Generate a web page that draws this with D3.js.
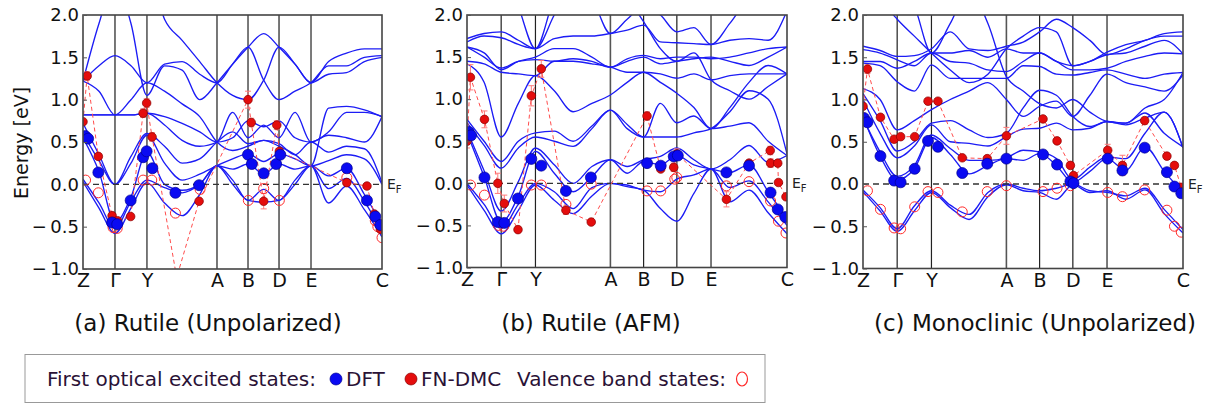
<!DOCTYPE html>
<html>
<head>
<meta charset="utf-8">
<script src="https://cdn.jsdelivr.net/npm/d3@7"></script>
<style>
  html, body { margin: 0; padding: 0; background: #fff; }
  svg { display: block; font-family: "DejaVu Sans", sans-serif; }
</style>
</head>
<body>
<svg id="chart" width="1208" height="405"></svg>
<script>
// High-symmetry points along the k-path and their path distances
const kLabels = ["Z", "Γ", "Y", "A", "B", "D", "E", "C"];
const kTicks = [0, 1, 2, 4.19, 5.16, 6.13, 7.13, 9.35];
// k positions at which every band energy is sampled
const kGrid = [0, 0.5, 1, 1.5, 2, 2.55, 3.1, 3.65, 4.19, 4.68, 5.16, 5.65, 6.13, 6.63, 7.13, 7.68, 8.24, 8.8, 9.35];
const energyTicks = [2.0, 1.5, 1.0, 0.5, 0.0, -0.5, -1.0];

// DFT band energies (eV) for rutile, unpolarized
const rutileBands = [
  [0.03, -0.28, -0.58, -0.28, 0.02, -0.22, -0.37, -0.12, 0.22, 0.0, -0.19, -0.21, -0.19, 0.0, 0.22, -0.22, -0.02, -0.3, -0.62],
  [0.06, -0.22, -0.52, -0.2, 0.05, -0.04, -0.1, 0.0, 0.22, 0.05, -0.19, -0.06, -0.19, 0.05, 0.22, -0.05, 0.07, -0.2, -0.56],
  [0.55, 0.15, -0.45, -0.15, 0.38, 0.0, -0.07, 0.0, 0.22, 0.18, 0.24, 0.12, 0.24, 0.18, 0.22, 0.1, 0.19, -0.12, -0.48],
  [0.6, 0.28, 0.0, 0.25, 0.58, 0.25, 0.05, 0.12, 0.22, 0.3, 0.36, 0.27, 0.36, 0.3, 0.22, 0.28, 0.35, 0.3, 0.0],
  [0.72, 0.35, 0.0, 0.33, 0.6, 0.45, 0.25, 0.3, 0.5, 0.62, 0.48, 0.52, 0.48, 0.35, 0.5, 0.38, 0.45, 0.42, 0.02],
  [0.82, 0.82, 0.82, 0.82, 0.84, 0.7, 0.52, 0.45, 0.5, 0.85, 0.55, 0.7, 0.55, 0.85, 0.5, 0.58, 0.55, 0.5, 0.8],
  [0.82, 0.82, 0.82, 0.82, 0.84, 0.8, 0.72, 0.62, 0.5, 0.55, 0.75, 0.68, 0.75, 0.55, 0.5, 0.62, 0.85, 0.85, 0.8],
  [1.22, 1.4, 1.52, 1.4, 1.2, 1.42, 1.45, 1.3, 1.2, 1.42, 1.62, 1.78, 1.62, 1.42, 1.2, 1.45, 1.55, 1.6, 1.6],
  [1.22, 1.9, 2.4, 1.9, 1.05, 1.4, 1.35, 1.0, 1.2, 1.42, 1.62, 1.23, 1.0, 1.1, 1.2, 1.4, 1.4, 1.5, 1.52],
  [2.5, 2.3, 2.2, 2.3, 2.6, 1.95, 1.7, 1.45, 1.2, 1.05, 1.0, 1.23, 1.62, 1.42, 1.2, 1.3, 1.32, 1.45, 1.5],
  [1.22, 1.1, 0.82, 1.0, 1.2, 1.1, 0.95, 0.8, 0.5, 0.4, 0.45, 0.52, 0.45, 0.35, 0.22, 0.9, 0.92, 0.88, 0.8]
];
const rutileDft = [
  [0.07, 0.57], [0.16, 0.54], [0.48, 0.14], [0.91, -0.45], [1.07, -0.47], [1.49, -0.19],
  [1.88, 0.32], [1.99, 0.39], [2.17, 0.19], [2.89, -0.1], [3.63, -0.01],
  [5.16, 0.35], [5.28, 0.24], [5.65, 0.13], [6.04, 0.24], [6.17, 0.35],
  [8.25, 0.19], [8.88, -0.19], [9.14, -0.38], [9.3, -0.48]
];
const rutileDmc = [
  [0.0, 0.74, 0.04], [0.13, 1.28, 0.05], [0.48, 0.33, 0.04], [0.91, -0.37, 0.03], [1.08, -0.43, 0.03],
  [1.49, -0.38, 0.03], [1.88, 0.84, 0.05], [1.99, 0.96, 0.05], [2.16, 0.56, 0.05], [2.93, -1.1, 0.05],
  [3.63, -0.2, 0.04], [5.16, 1.0, 0.1], [5.26, 0.73, 0.05], [5.65, -0.2, 0.09], [6.06, 0.7, 0.05],
  [6.14, 0.39, 0.04], [8.25, 0.02, 0.03], [8.88, -0.02, 0.03], [9.11, -0.35, 0.03], [9.3, -0.53, 0.03]
];
const rutileValence = [
  [0.08, 0.05], [0.48, -0.1], [0.94, -0.51], [1.07, -0.52], [1.88, 0.05], [2.15, 0.05],
  [2.89, -0.34], [3.66, -0.06], [5.17, -0.19], [5.65, -0.05], [6.14, -0.19],
  [8.25, 0.08], [9.14, -0.43], [9.22, -0.5], [9.35, -0.63]
];

// DFT band energies (eV) for rutile, antiferromagnetic
const rutileAfmBands = [
  [-0.02, -0.32, -0.6, -0.32, -0.02, -0.2, -0.36, -0.15, 0.0, -0.04, -0.08, -0.3, -0.45, -0.12, 0.17, -0.22, -0.08, -0.35, -0.6],
  [0.0, -0.25, -0.53, -0.25, 0.0, -0.1, -0.3, -0.05, 0.0, -0.02, -0.08, -0.1, 0.05, 0.1, 0.17, -0.05, 0.03, -0.22, -0.5],
  [0.6, 0.08, -0.46, -0.15, 0.38, 0.12, -0.1, 0.08, 0.28, 0.12, 0.26, 0.22, 0.33, 0.22, 0.17, 0.13, 0.22, -0.1, -0.42],
  [0.63, 0.15, -0.33, 0.02, 0.42, 0.22, 0.0, 0.2, 0.28, 0.2, 0.28, 0.32, 0.42, 0.28, 0.17, 0.28, 0.45, 0.25, 0.33],
  [0.72, 0.45, 0.18, 0.42, 0.55, 0.5, 0.44, 0.65, 0.87, 0.65, 0.55, 0.95, 0.72, 0.8, 0.65, 0.68, 0.72, 0.5, 0.33],
  [0.76, 0.5, 0.26, 0.5, 0.6, 0.62, 0.5, 0.68, 0.87, 0.7, 0.55, 0.55, 0.55, 0.6, 0.65, 0.85, 1.1, 1.0, 0.35],
  [1.42, 1.2, 0.55, 0.95, 1.28, 1.1, 0.85, 0.95, 1.05, 1.2, 1.32, 1.2, 1.07, 0.9, 0.65, 0.9, 1.2, 1.4, 1.3],
  [1.45, 1.42, 1.32, 1.3, 1.28, 1.45, 1.45, 1.42, 1.38, 1.32, 1.32, 1.3, 1.25, 1.3, 1.23, 1.28, 1.3, 1.3, 1.3],
  [1.62, 1.5, 1.37, 1.45, 1.47, 1.45, 1.48, 1.45, 1.38, 1.45, 1.5, 1.42, 1.45, 1.48, 1.5, 1.45, 1.4, 1.5, 1.62],
  [1.62, 1.55, 1.35, 1.45, 1.5, 1.6, 1.6, 1.5, 1.38, 1.48, 1.52, 1.48, 1.5, 1.5, 1.48, 1.5, 1.55, 1.6, 1.62],
  [1.68, 1.75, 1.73, 1.65, 1.6, 1.72, 1.75, 1.75, 1.78, 1.82, 1.88, 1.68, 1.67, 1.66, 1.65, 1.7, 1.72, 1.7, 2.05],
  [1.72, 1.78, 1.8, 1.7, 1.6, 2.0, 2.4, 2.2, 1.78, 1.95, 2.1, 2.0, 1.8, 1.85, 1.65, 1.9, 2.2, 2.3, 2.5],
  [2.2, 2.3, 2.6, 2.1, 1.6, 2.2, 2.5, 2.6, 2.4, 2.2, 1.92, 1.6, 1.45, 1.55, 1.23, 1.1, 1.0, 1.15, 1.3]
];
const rutileAfmDft = [
  [0.05, 0.61], [0.12, 0.57], [0.51, 0.07], [0.9, -0.46], [1.09, -0.47], [1.49, -0.18],
  [1.88, 0.29], [2.17, 0.21], [2.89, -0.09], [3.62, 0.07],
  [5.26, 0.24], [5.66, 0.21], [6.04, 0.32], [6.16, 0.33],
  [7.58, 0.13], [8.24, 0.21], [8.87, -0.11], [9.08, -0.31], [9.3, -0.4]
];
const rutileAfmDmc = [
  [0.0, 0.5, 0.08], [0.1, 1.26, 0.15], [0.51, 0.76, 0.1], [0.9, 0.0, 0.12], [1.09, -0.24, 0.1],
  [1.49, -0.55, 0.04], [1.88, 1.04, 0.12], [2.17, 1.36, 0.1], [2.89, -0.32, 0.05], [3.63, -0.46, 0.04],
  [5.26, 0.8, 0.05], [5.66, 0.17, 0.04], [6.04, 0.19, 0.05], [6.13, 0.35, 0.06],
  [7.58, -0.19, 0.09], [8.24, 0.24, 0.04], [8.86, 0.39, 0.05], [8.87, 0.24, 0.05],
  [9.08, 0.24, 0.04], [9.1, 0.01, 0.04], [9.32, -0.16, 0.04]
];
const rutileAfmValence = [
  [0.1, -0.02], [0.51, -0.14], [0.92, -0.5], [1.07, -0.51], [1.88, -0.02], [2.17, -0.02],
  [2.89, -0.25], [3.63, -0.01], [5.26, -0.09], [5.66, -0.09], [6.07, 0.05], [6.13, 0.07],
  [7.58, -0.03], [8.24, 0.02], [8.87, -0.21], [9.1, -0.45], [9.32, -0.59]
];

// DFT band energies (eV) for monoclinic, unpolarized
const monoclinicBands = [
  [-0.09, -0.32, -0.56, -0.32, -0.1, -0.28, -0.42, -0.15, -0.01, -0.08, -0.1, -0.18, -0.01, -0.1, -0.08, -0.18, -0.07, -0.35, -0.58],
  [-0.07, -0.28, -0.53, -0.26, -0.08, -0.25, -0.36, -0.1, 0.0, -0.05, -0.08, -0.05, 0.0, -0.08, -0.1, -0.14, -0.05, -0.3, -0.54],
  [0.8, 0.33, 0.05, 0.18, 0.55, 0.35, 0.12, 0.22, 0.3, 0.28, 0.36, 0.22, 0.02, 0.15, 0.3, 0.16, 0.44, 0.15, -0.1],
  [0.78, 0.38, 0.09, 0.22, 0.58, 0.42, 0.28, 0.28, 0.31, 0.4, 0.38, 0.3, 0.05, 0.2, 0.32, 0.3, 0.6, 0.85, 0.43],
  [1.0, 0.6, 0.31, 0.45, 0.7, 0.5, 0.48, 0.45, 0.56, 0.65, 0.66, 0.72, 0.64, 0.66, 0.74, 0.7, 0.78, 0.85, 0.43],
  [1.07, 0.75, 0.39, 0.5, 0.72, 0.75, 0.64, 0.55, 0.6, 0.9, 1.11, 1.05, 0.8, 0.68, 0.74, 0.72, 0.84, 0.6, 0.44],
  [1.13, 1.0, 0.64, 0.75, 0.88, 1.0, 1.1, 1.2, 1.0, 0.8, 0.92, 0.98, 0.8, 1.05, 1.3, 1.2, 1.15, 1.1, 1.29],
  [1.43, 1.4, 1.21, 1.1, 1.41, 1.25, 1.25, 1.25, 1.25, 1.4, 1.39, 1.3, 1.29, 1.32, 1.35, 1.3, 1.25, 1.3, 1.32],
  [1.45, 1.45, 1.37, 1.45, 1.55, 1.45, 1.43, 1.35, 1.33, 1.45, 1.55, 1.45, 1.35, 1.35, 1.37, 1.45, 1.51, 1.55, 1.54],
  [1.59, 1.55, 1.47, 1.4, 1.55, 1.55, 1.58, 1.5, 1.6, 1.55, 1.55, 1.45, 1.4, 1.45, 1.53, 1.55, 1.63, 1.7, 1.54],
  [1.63, 1.58, 1.51, 1.52, 1.6, 1.8, 1.6, 1.58, 1.63, 1.68, 1.8, 1.95, 1.85, 1.7, 1.53, 1.6, 1.7, 1.75, 1.75],
  [2.6, 2.2, 1.95, 1.75, 1.55, 1.35, 1.2, 1.3, 1.6, 1.75, 1.85, 1.8, 1.4, 1.45, 1.56, 1.65, 1.7, 1.78, 1.8],
  [2.6, 2.4, 2.3, 2.1, 1.55, 1.9, 2.3, 1.9, 1.27, 1.1, 0.95, 0.9, 1.0, 0.85, 0.74, 0.72, 0.9, 1.0, 1.32]
];
const monoclinicDft = [
  [0.03, 0.78], [0.13, 0.73], [0.51, 0.33], [0.91, 0.04], [1.1, 0.02], [1.51, 0.18],
  [1.9, 0.51], [2.19, 0.44], [2.9, 0.13], [3.63, 0.24], [4.19, 0.3],
  [5.26, 0.35], [5.67, 0.23], [6.06, 0.03], [6.15, 0.01],
  [7.15, 0.3], [7.58, 0.16], [8.23, 0.43], [8.88, 0.14], [9.1, -0.03], [9.3, -0.11]
];
const monoclinicDmc = [
  [0.0, 0.92, 0.08], [0.13, 1.36, 0.05], [0.51, 0.79, 0.04], [0.91, 0.53, 0.03], [1.1, 0.56, 0.03],
  [1.51, 0.56, 0.03], [1.9, 0.98, 0.04], [2.19, 0.98, 0.04], [2.9, 0.31, 0.04], [3.63, 0.3, 0.04],
  [4.19, 0.57, 0.1], [5.26, 0.77, 0.04], [5.67, 0.51, 0.04], [6.06, 0.22, 0.04], [6.15, 0.1, 0.04],
  [7.15, 0.4, 0.07], [7.58, 0.22, 0.12], [8.23, 0.75, 0.04], [8.88, 0.33, 0.04], [9.1, 0.22, 0.04],
  [9.3, -0.04, 0.04]
];
const monoclinicValence = [
  [0.13, -0.08], [0.51, -0.3], [0.91, -0.52], [1.1, -0.53], [1.51, -0.27], [1.9, -0.09],
  [2.19, -0.1], [2.9, -0.33], [3.63, -0.09], [4.19, -0.02], [5.26, -0.09], [5.67, -0.05],
  [6.06, -0.02], [7.15, -0.1], [7.58, -0.15], [8.23, -0.07], [8.88, -0.31], [9.1, -0.5], [9.3, -0.57]
];

const panelTitles = ["(a) Rutile (Unpolarized)", "(b) Rutile (AFM)", "(c) Monoclinic (Unpolarized)"];
const legendLabels = ["First optical excited states:", "DFT", "FN-DMC", "Valence band states:"];

const panels = [
  { left: 83, right: 382, top: 15, bottom: 269, titleX: 208, bands: rutileBands, dft: rutileDft, dmc: rutileDmc, val: rutileValence },
  { left: 467, right: 787, top: 15, bottom: 267.5, titleX: 591, bands: rutileAfmBands, dft: rutileAfmDft, dmc: rutileAfmDmc, val: rutileAfmValence },
  { left: 863, right: 1183, top: 15, bottom: 268.5, titleX: 1035, bands: monoclinicBands, dft: monoclinicDft, dmc: monoclinicDmc, val: monoclinicValence }
];

const svg = d3.select("#chart");
const BAND = "#1c1cf5";

panels.forEach((p, pi) => {
  const x = d3.scaleLinear().domain([0, kTicks[kTicks.length - 1]]).range([p.left, p.right]);
  const y = d3.scaleLinear().domain([-1, 2]).range([p.bottom, p.top]);
  const g = svg.append("g");
  const clipId = "clip" + pi;
  svg.append("clipPath").attr("id", clipId)
    .append("rect").attr("x", p.left).attr("y", p.top)
    .attr("width", p.right - p.left).attr("height", p.bottom - p.top);

  // vertical lines at high-symmetry points
  g.selectAll("line.kline").data(kTicks.slice(1, -1)).join("line")
    .attr("class", "kline")
    .attr("x1", d => x(d)).attr("x2", d => x(d))
    .attr("y1", p.top).attr("y2", p.bottom)
    .attr("stroke", (d, i) => (i % 2 === 0 ? "#555" : "#222"))
    .attr("stroke-width", (d, i) => (i % 2 === 0 ? 1.6 : 1.2));

  // bands
  const line = d3.line().x((d, i) => x(kGrid[i])).y(d => y(d)).curve(d3.curveMonotoneX);
  g.append("g").attr("clip-path", `url(#${clipId})`)
    .selectAll("path").data(p.bands).join("path")
    .attr("d", line).attr("fill", "none")
    .attr("stroke", BAND).attr("stroke-width", 1.35);

  // Fermi level
  g.append("line")
    .attr("x1", p.left).attr("x2", p.right)
    .attr("y1", y(0)).attr("y2", y(0))
    .attr("stroke", "#333").attr("stroke-width", 1.4)
    .attr("stroke-dasharray", "6,4");

  const marks = g.append("g").attr("clip-path", `url(#${clipId})`);

  // FN-DMC path
  const dmcSorted = p.dmc.slice().sort((a, b) => a[0] - b[0]);
  marks.append("path")
    .attr("d", d3.line().x(d => x(d[0])).y(d => y(d[1]))(dmcSorted))
    .attr("fill", "none").attr("stroke", "#ff4d4d").attr("stroke-width", 1)
    .attr("stroke-dasharray", "4,3");

  // FN-DMC error bars
  const eb = marks.selectAll("g.err").data(p.dmc.filter(d => d[2] > 0.045)).join("g").attr("class", "err")
    .attr("stroke", "#ff7a7a").attr("stroke-width", 1);
  eb.append("line").attr("x1", d => x(d[0])).attr("x2", d => x(d[0]))
    .attr("y1", d => y(d[1] - d[2])).attr("y2", d => y(d[1] + d[2]));
  eb.append("line").attr("x1", d => x(d[0]) - 3).attr("x2", d => x(d[0]) + 3)
    .attr("y1", d => y(d[1] - d[2])).attr("y2", d => y(d[1] - d[2]));
  eb.append("line").attr("x1", d => x(d[0]) - 3).attr("x2", d => x(d[0]) + 3)
    .attr("y1", d => y(d[1] + d[2])).attr("y2", d => y(d[1] + d[2]));

  // valence band states
  marks.selectAll("circle.val").data(p.val).join("circle").attr("class", "val")
    .attr("cx", d => x(d[0])).attr("cy", d => y(d[1])).attr("r", 5)
    .attr("fill", "none").attr("stroke", "#ff2a2a").attr("stroke-width", 1);

  // FN-DMC excited states
  marks.selectAll("circle.dmc").data(p.dmc).join("circle").attr("class", "dmc")
    .attr("cx", d => x(d[0])).attr("cy", d => y(d[1])).attr("r", 4.3)
    .attr("fill", "#e40d0d").attr("stroke", "#8a0000").attr("stroke-width", 0.7);

  // DFT excited states
  marks.selectAll("circle.dft").data(p.dft).join("circle").attr("class", "dft")
    .attr("cx", d => x(d[0])).attr("cy", d => y(d[1])).attr("r", 5.5)
    .attr("fill", "#0a0af2").attr("stroke", "#000090").attr("stroke-width", 0.7);

  // frame
  g.append("rect").attr("x", p.left).attr("y", p.top)
    .attr("width", p.right - p.left).attr("height", p.bottom - p.top)
    .attr("fill", "none").attr("stroke", "#444").attr("stroke-width", 1.6);

  // energy ticks and labels
  const yAxis = d3.axisLeft(y).tickValues(energyTicks).tickSize(-4).tickPadding(4)
    .tickFormat(d => d < 0 ? "\u2212\u2009" + Math.abs(d).toFixed(1) : d.toFixed(1));
  const ya = svg.append("g").attr("transform", `translate(${p.left},0)`).call(yAxis);
  ya.select(".domain").remove();
  ya.selectAll(".tick line").attr("stroke", "#555");
  ya.selectAll("text").attr("font-size", 18).attr("fill", "#111")
    .attr("font-family", "DejaVu Sans, sans-serif").attr("x", -4);

  // k-point labels
  const xAxis = d3.axisBottom(x).tickValues(kTicks).tickSize(0).tickPadding(0)
    .tickFormat((d, i) => kLabels[i]);
  const xa = svg.append("g").attr("transform", `translate(0,${p.bottom})`).call(xAxis);
  xa.select(".domain").remove();
  xa.selectAll("text").attr("font-size", 19).attr("fill", "#111")
    .attr("font-family", "DejaVu Sans, sans-serif").attr("dy", "0.95em");

  // Fermi level label
  const ef = svg.append("text").attr("x", p.right + 5).attr("y", y(0) + 5)
    .attr("font-size", 14).attr("fill", "#222");
  ef.append("tspan").text("E");
  ef.append("tspan").attr("font-size", 10).attr("dy", 4).text("F");

  // panel title
  svg.append("text").attr("x", p.titleX).attr("y", 331).attr("text-anchor", "middle")
    .attr("font-size", 23).attr("fill", "#111").text(panelTitles[pi]);
});

// energy axis title
svg.append("text").attr("transform", "translate(28,143) rotate(-90)")
  .attr("text-anchor", "middle").attr("font-size", 19).attr("fill", "#111")
  .text("Energy [eV]");

// legend
const lg = svg.append("g");
lg.append("rect").attr("x", 25).attr("y", 354.5).attr("width", 740).attr("height", 48)
  .attr("fill", "#fff").attr("stroke", "#999").attr("stroke-width", 1);
const legendText = "#2a1236";
lg.append("text").attr("x", 47).attr("y", 386).attr("font-size", 20).attr("fill", legendText).text(legendLabels[0]);
lg.append("circle").attr("cx", 336).attr("cy", 379).attr("r", 6)
  .attr("fill", "#0a0af2").attr("stroke", "#000090").attr("stroke-width", 0.7);
lg.append("text").attr("x", 346).attr("y", 386).attr("font-size", 20).attr("fill", legendText).text(legendLabels[1]);
lg.append("circle").attr("cx", 411).attr("cy", 379).attr("r", 6)
  .attr("fill", "#e40d0d").attr("stroke", "#8a0000").attr("stroke-width", 0.7);
lg.append("text").attr("x", 421).attr("y", 386).attr("font-size", 20).attr("fill", legendText).text(legendLabels[2]);
lg.append("text").attr("x", 517).attr("y", 386).attr("font-size", 20).attr("fill", legendText).text(legendLabels[3]);
lg.append("ellipse").attr("cx", 742).attr("cy", 379).attr("rx", 5.5).attr("ry", 7)
  .attr("fill", "none").attr("stroke", "#ff2a2a").attr("stroke-width", 1.2);
</script>
</body>
</html>
